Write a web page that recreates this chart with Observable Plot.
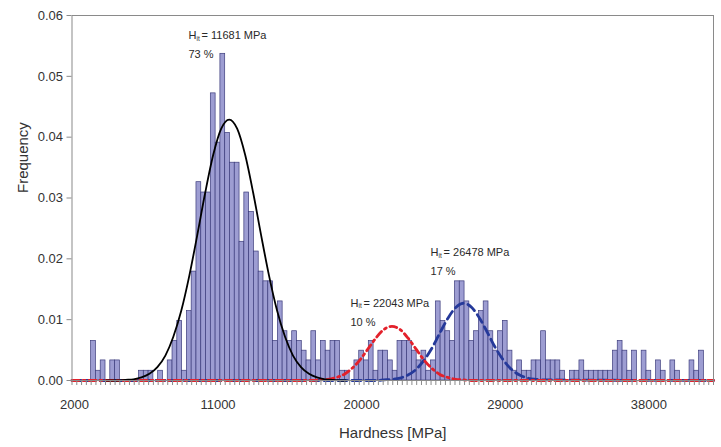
<!DOCTYPE html>
<html><head><meta charset="utf-8">
<script src="https://cdn.jsdelivr.net/npm/d3@7"></script>
<script src="https://cdn.jsdelivr.net/npm/@observablehq/plot@0.6"></script>
<style>body{margin:0;background:#fff}svg{display:block}</style>
</head><body><div id="chart"></div>
<script>
// ---- data ----
const firstBinCenter = 2000;   // MPa
const binWidth = 300;          // MPa
const frequency = [
  0, 0, 0, 0, 0.0065, 0.0016, 0.0033, 0, 0.0033, 0.0033,
  0, 0, 0, 0, 0.0016, 0.0016, 0.0016, 0, 0.0016, 0,
  0.0033, 0.0065, 0.0098, 0.0016, 0.0114, 0.0179, 0.0326, 0.0309, 0.0309, 0.0472,
  0.0391, 0.0537, 0.0407, 0.0358, 0.0358, 0.0228, 0.0309, 0.0277, 0.0212, 0.0179,
  0.0163, 0.0163, 0.0065, 0.0130, 0.0081, 0.0065, 0.0081, 0.0065, 0.0049, 0.0033,
  0.0081, 0.0033, 0.0065, 0.0049, 0.0065, 0.0065, 0.0016, 0.0016, 0, 0.0033,
  0.0049, 0.0033, 0.0065, 0.0016, 0.0049, 0.0049, 0.0033, 0.0016, 0.0065, 0.0065,
  0.0065, 0.0049, 0.0033, 0.0049, 0.0016, 0.0033, 0.0130, 0.0098, 0.0081, 0.0065,
  0.0163, 0.0163, 0.0130, 0.0065, 0.0081, 0.0114, 0.0130, 0.0081, 0.0049, 0.0081,
  0.0098, 0.0049, 0.0016, 0.0033, 0.0016, 0.0016, 0.0033, 0.0033, 0.0081, 0.0033,
  0.0033, 0.0033, 0.0016, 0, 0.0016, 0.0016, 0.0033, 0.0016, 0.0016, 0.0016,
  0.0016, 0.0016, 0.0016, 0.0049, 0.0065, 0.0049, 0.0016, 0.0049, 0, 0.0049,
  0.0016, 0, 0.0033, 0.0016, 0, 0.0033, 0.0016, 0, 0, 0.0033,
  0.0016, 0.0049, 0, 0
];
const xTickLabels = [2000, 11000, 20000, 29000, 38000];
const yTickValues = [0, 0.01, 0.02, 0.03, 0.04, 0.05, 0.06];

// fitted curve of the first phase (black, solid)
const fit1X = [4000, 4700, 5200, 5700, 6200, 6700, 7200, 7700, 8200, 8700, 9200, 9700, 10200, 10700, 11200, 11700,
               12200, 12700, 13200, 13700, 14200, 14700, 15200, 15700, 16200, 16700, 17200, 17700, 18200, 18700, 19000];
const fit1Y = [0, 0, 0.0001, 0.0002, 0.0005, 0.0011, 0.0022, 0.0041, 0.0072, 0.0115, 0.0172, 0.0239, 0.0309, 0.0371, 0.0414, 0.0429,
               0.0414, 0.0371, 0.0309, 0.0239, 0.0172, 0.0115, 0.0072, 0.0041, 0.0022, 0.0011, 0.0005, 0.0002, 0.0001, 0, 0];
// second phase (red, dash-dot)
const fit2X = [1850, 16900, 17400, 17900, 18400, 18900, 19400, 19900, 20400, 20900, 21400, 21900,
               22400, 22900, 23400, 23900, 24400, 24900, 25400, 25900, 26400, 26900, 42050];
const fit2Y = [0, 0, 0.0001, 0.0002, 0.0005, 0.0010, 0.0020, 0.0034, 0.0052, 0.0070, 0.0084, 0.0089,
               0.0084, 0.0070, 0.0052, 0.0034, 0.0020, 0.0010, 0.0005, 0.0002, 0.0001, 0, 0];
// third phase (blue, dashed)
const fit3X = [1850, 20900, 21400, 21900, 22400, 22900, 23400, 23900, 24400, 24900, 25400, 25900, 26400,
               26900, 27400, 27900, 28400, 28900, 29400, 29900, 30400, 30900, 31400, 42050];
const fit3Y = [0, 0, 0.0001, 0.0002, 0.0004, 0.0009, 0.0018, 0.0033, 0.0053, 0.0078, 0.0102, 0.0120, 0.0127,
               0.0120, 0.0102, 0.0078, 0.0053, 0.0033, 0.0018, 0.0009, 0.0004, 0.0002, 0.0001, 0];

const phaseHardness = ["11681", "22043", "26478"];
const phaseShare = ["73 %", "10 %", "17 %"];
const labelAnchorX = [9150, 19300, 24320];
const labelAnchorY = [0.0567, 0.0127, 0.0210];

// ---- build tables ----
const bars = frequency.map((f, i) => ({
  x1: firstBinCenter + i * binWidth - binWidth / 2,
  x2: firstBinCenter + i * binWidth + binWidth / 2,
  y: f
})).filter(d => d.y > 0);
const xMin = firstBinCenter - binWidth / 2;
const xMax = firstBinCenter + (frequency.length - 1) * binWidth + binWidth / 2;
const binEdges = d3.range(frequency.length + 1).map(i => xMin + i * binWidth);
const toPts = (xs, ys) => xs.map((x, i) => ({x, y: ys[i]}));
const labels = phaseHardness.map((h, i) => ({x: labelAnchorX[i], y: labelAnchorY[i], h: "= " + h + " MPa", s: phaseShare[i]}));

const font = "'Liberation Sans', Arial, sans-serif";
const txt = "#2a2a2a";

const chart = Plot.plot({
  width: 721, height: 447,
  marginLeft: 71.5, marginRight: 8, marginTop: 15, marginBottom: 67,
  style: {fontFamily: font, fontSize: "13px", color: "#333", background: "#fff"},
  x: {domain: [xMin, xMax]},
  y: {domain: [0, 0.06]},
  marks: [
    Plot.rectY(bars, {x1: "x1", x2: "x2", y: "y", fill: "#9d9dd2", stroke: "#3c3c7c", strokeWidth: 0.7}),
    Plot.line(toPts(fit3X, fit3Y), {x: "x", y: "y", stroke: "#25399a", strokeWidth: 2.8, strokeDasharray: "9,5", curve: "monotone-x"}),
    Plot.line(toPts(fit2X, fit2Y), {x: "x", y: "y", stroke: "#e3212b", strokeWidth: 2.8, strokeDasharray: "7,4,2,4", curve: "monotone-x"}),
    Plot.line(toPts(fit1X, fit1Y), {x: "x", y: "y", stroke: "#000", strokeWidth: 1.8, curve: "monotone-x"}),
    Plot.frame({stroke: "#8a8a8a", strokeWidth: 1}),
    Plot.axisY({ticks: yTickValues, tickFormat: d => d.toFixed(2), tickSize: 5, tickPadding: 4, label: null, stroke: "#8a8a8a", fontSize: 13}),
    Plot.axisX({ticks: binEdges, tickSize: 5, tickFormat: () => "", label: null, stroke: "#8a8a8a"}),
    Plot.axisX({ticks: xTickLabels, tickSize: 0, tickPadding: 19, tickFormat: d => String(d), label: null, fontSize: 13}),
    Plot.text(["Hardness [MPa]"], {frameAnchor: "bottom", dy: 57, fontSize: 15, fill: "#333"}),
    Plot.text(["Frequency"], {frameAnchor: "left", dx: -49, dy: -5, rotate: -90, fontSize: 15, fill: "#333"}),
    Plot.text(labels, {x: "x", y: "y", text: () => "H", textAnchor: "start", fontSize: 11, fill: txt}),
    Plot.text(labels, {x: "x", y: "y", text: () => "it", textAnchor: "start", dx: 8, dy: 3, fontSize: 6.5, fill: txt}),
    Plot.text(labels, {x: "x", y: "y", text: "h", textAnchor: "start", dx: 13, fontSize: 11, fill: txt}),
    Plot.text(labels, {x: "x", y: "y", text: "s", textAnchor: "start", dy: 19, fontSize: 11, fill: txt})
  ]
});
document.getElementById("chart").appendChild(chart);
</script>
</body></html>
